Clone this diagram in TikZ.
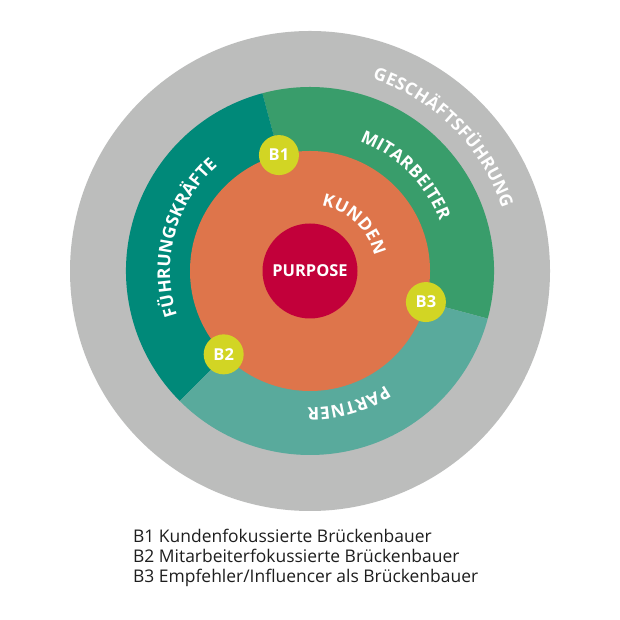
\documentclass[tikz,border=0pt]{standalone}
\usepackage{fontspec}
\setmainfont{Open Sans}
\usepackage{tikz}
\usetikzlibrary{positioning, calc, decorations.text}

\definecolor{grauring}{RGB}{188,189,188}
\definecolor{fuehrung}{RGB}{0,137,121}
\definecolor{mitarb}{RGB}{57,157,107}
\definecolor{partner}{RGB}{89,170,156}
\definecolor{kunden}{RGB}{222,117,75}
\definecolor{purpose}{RGB}{194,0,58}
\definecolor{bruecke}{RGB}{210,213,36}
\definecolor{legende}{RGB}{30,30,30}

\newcommand{\ringfont}{\fontsize{17.5}{17.5}\selectfont\bfseries\spaceskip=0.2pt\relax}

\begin{document}
\begin{tikzpicture}[x=1bp, y=1bp,
    ringlabel/.style={decorate, decoration={text along path, text color=white,
        text align=fit to path, text={#1}}},
    bnode/.style={circle, fill=bruecke, minimum size=40bp, inner sep=0pt,
        text=white, font=\fontsize{16.5}{16.5}\selectfont\bfseries},
    legend/.style={anchor=base west, inner sep=0pt, text=legende,
        font=\fontsize{17.5}{20}\selectfont}
    ]
\fill[white] (0,0) rectangle (620,620);
\useasboundingbox (0,0) rectangle (620,620);

\coordinate (c) at (310,349);

% rings
\fill[grauring] (c) circle[radius=240];
\fill[mitarb] (c) -- ($(c)+(-15:184)$) arc[start angle=-15, end angle=105, radius=184] -- cycle;
\fill[fuehrung] (c) -- ($(c)+(105:184)$) arc[start angle=105, end angle=225, radius=184] -- cycle;
\fill[partner] (c) -- ($(c)+(225:184)$) arc[start angle=225, end angle=345, radius=184] -- cycle;
\fill[kunden] (c) circle[radius=120];

\node[circle, fill=purpose, minimum size=95bp, inner sep=0pt, text=white,
    font=\fontsize{16.5}{16.5}\selectfont\bfseries] (purpose) at (c) {PURPOSE};

% curved labels
\path[ringlabel={|\ringfont|G E S C H Ä F T S F Ü H R U N G}]
    ($(c)+(72:202)$) arc[start angle=72, end angle=18, radius=202];
\path[ringlabel={|\ringfont|M I T A R B E I T E R}]
    ($(c)+(69:139)$) arc[start angle=69, end angle=21, radius=139];
\path[ringlabel={|\ringfont|F Ü H R U N G S K R Ä F T E}]
    ($(c)+(198.5:140)$) arc[start angle=198.5, end angle=131.5, radius=140];
\path[ringlabel={|\ringfont|P A R T N E R}]
    ($(c)+(-56.5:137)$) arc[start angle=-56.5, end angle=-91, radius=137];
\path[ringlabel={|\ringfont|K U N D E N}]
    ($(c)+(80:66)$) arc[start angle=80, end angle=13, radius=66];

% brueckenbauer
\node[bnode] (b1) at ($(c)+(105:120)$) {B1};
\node[bnode] (b2) at ($(c)+(224:120)$) {B2};
\node[bnode] (b3) at ($(c)+(-15:120)$) {B3};

\node[legend] (l1) at (133,77) {B1 Kundenfokussierte Brückenbauer};
\node[legend] (l2) at ([yshift=-20bp]l1.base west) {B2 Mitarbeiterfokussierte Brückenbauer};
\node[legend] (l3) at ([yshift=-20bp]l2.base west) {B3 Empfehler/Influencer als Brückenbauer};

\end{tikzpicture}
\end{document}
